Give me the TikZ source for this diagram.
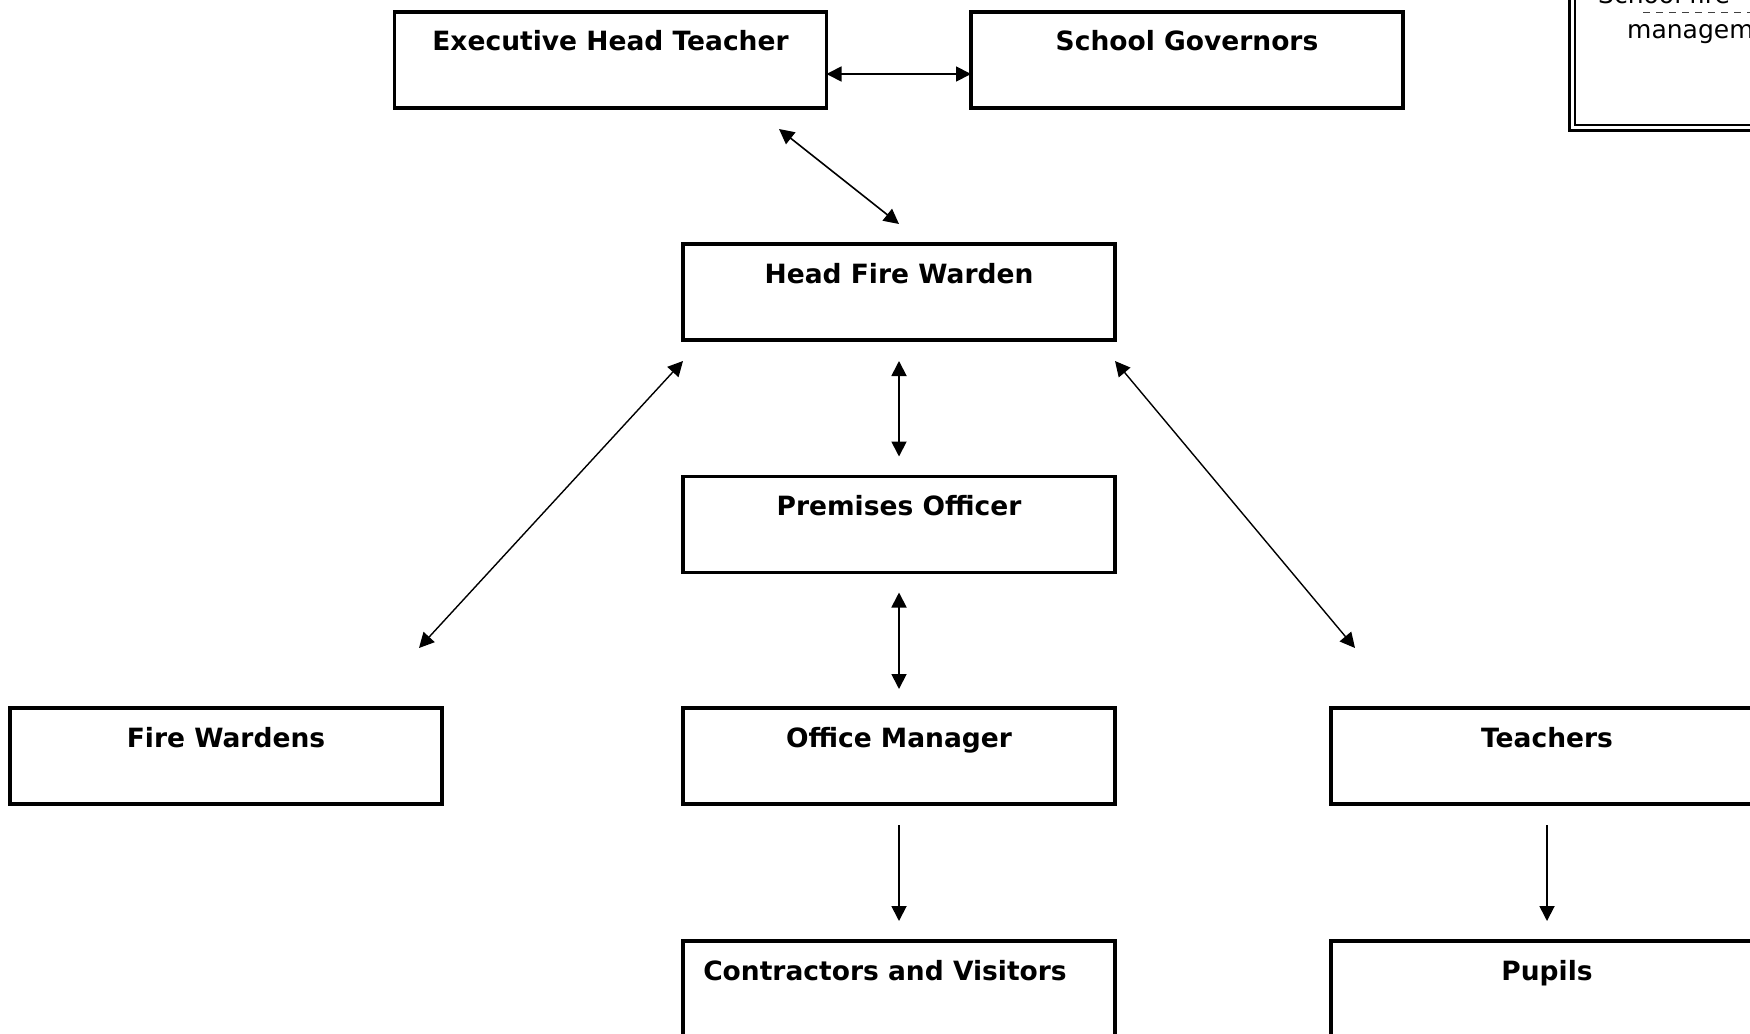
\documentclass[tikz,border=0pt]{standalone}
\usepackage{fontspec}
\setmainfont{DejaVu Sans}
\usetikzlibrary{arrows.meta}
\begin{document}
\begin{tikzpicture}[x=1pt,y=-1pt,
  box/.style={draw, line width=3.3pt, minimum width=432pt, minimum height=96pt, inner sep=0pt, outer sep=0pt},
  lbl/.style={font=\bfseries\fontsize{26.5}{30}\selectfont, anchor=base, inner sep=0pt},
  tipT/.tip={Triangle[length=15pt,width=15pt]},
  conn/.style={line width=1.8pt, tipT-tipT},
  oneway/.style={line width=1.8pt, -tipT}]
\useasboundingbox (0,0) rectangle (1750,1033);
\clip (0,0) rectangle (1750,1033);
\fill[white] (0,0) rectangle (1750,1033);

% boxes
\node[box] (eht) at (610.5,60) {};
\node[box] (sg) at (1187,60) {};
\node[box] (hfw) at (899,292) {};
\node[box] (po) at (899,524.5) {};
\node[box] (fw) at (226,756) {};
\node[box] (om) at (899,756) {};
\node[box] (teach) at (1547,756) {};
\node[box] (cv) at (899,989) {};
\node[box] (pup) at (1547,989) {};

% labels
\node[lbl] (ehtl) at ([yshift=-39pt]eht.north) {Executive Head Teacher};
\node[lbl] (sgl) at ([yshift=-39pt]sg.north) {School Governors};
\node[lbl] (hfwl) at ([yshift=-39pt]hfw.north) {Head Fire Warden};
\node[lbl] (pol) at ([yshift=-39pt]po.north) {Premises Officer};
\node[lbl] (fwl) at ([yshift=-39pt]fw.north) {Fire Wardens};
\node[lbl] (oml) at ([yshift=-39pt]om.north) {Office Manager};
\node[lbl] (teachl) at ([yshift=-39pt]teach.north) {Teachers};
\node[lbl] (cvl) at ([xshift=-14pt,yshift=-39pt]cv.north) {Contractors and Visitors};
\node[lbl] (pupl) at ([yshift=-39pt]pup.north) {Pupils};

% note box top right
\node[draw, double, line width=2.4pt, double distance=3.2pt, minimum width=400pt, minimum height=300pt, anchor=south west, inner sep=0pt] (note) at (1571.25,129) {};
\node[anchor=base west, font=\fontsize{25}{28}\selectfont, inner sep=0pt] (n1) at (1598,4) {School fire};
\node[anchor=base west, font=\fontsize{25}{28}\selectfont, inner sep=0pt] (n2) at (1627,39) {management};
\coordinate (d1) at (1643,13);
\coordinate (d2) at (1760,13);
\draw[line width=1pt, black!75, dash pattern=on 7pt off 6pt] (d1) -- (d2);

% connectors
\draw[conn] ([yshift=-14pt]eht.east) -- ([yshift=-14pt]sg.west);
\draw[conn, line width=1.6pt] ([xshift=168.5pt,yshift=-21pt]eht.south) -- ([yshift=20pt]hfw.north);
\draw[conn] ([yshift=-21pt]hfw.south) -- ([yshift=20pt]po.north);
\draw[conn, line width=1.4pt] ([yshift=-21pt]hfw.south west) -- ([xshift=-23pt,yshift=60pt]fw.north east);
\draw[conn, line width=1.4pt] ([yshift=-21pt]hfw.south east) -- ([xshift=24pt,yshift=60pt]teach.north west);
\draw[conn] ([yshift=-20pt]po.south) -- ([yshift=19pt]om.north);
\draw[oneway] ([yshift=-21pt]om.south) -- ([yshift=20pt]cv.north);
\draw[oneway] ([yshift=-21pt]teach.south) -- ([yshift=20pt]pup.north);
\end{tikzpicture}
\end{document}
